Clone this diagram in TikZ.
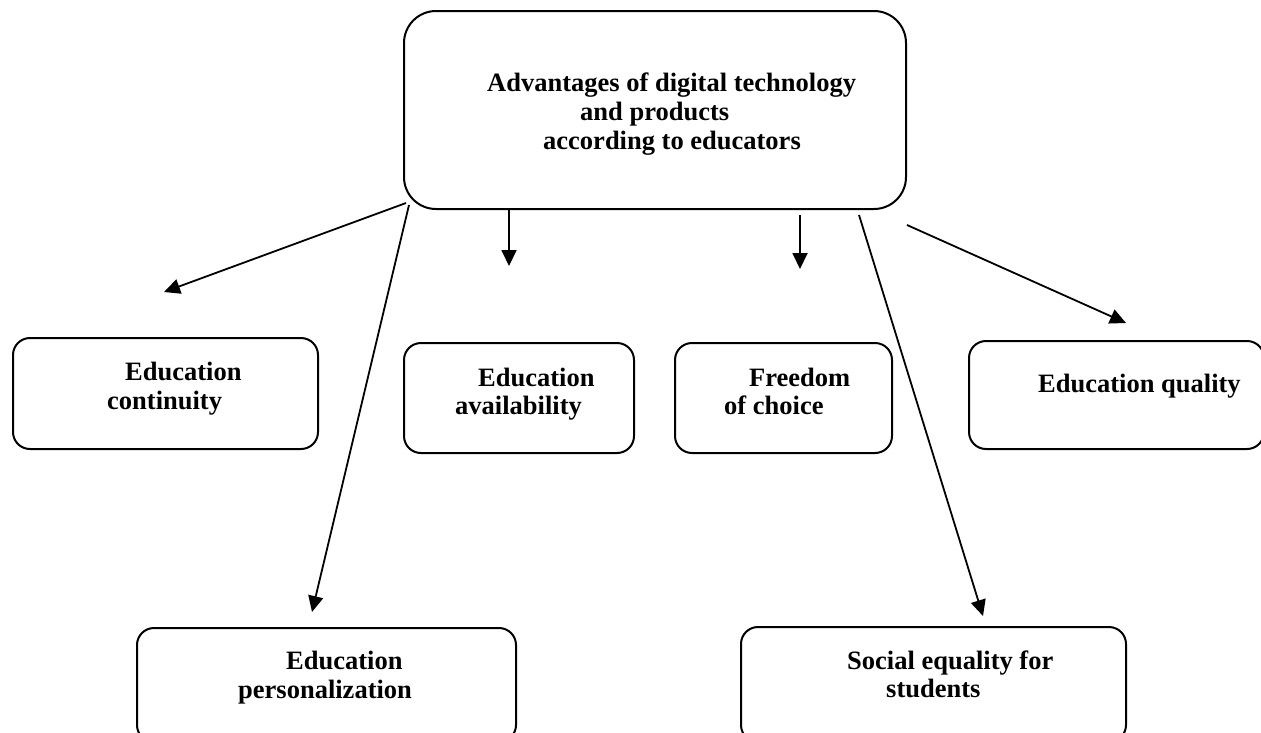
\documentclass[tikz,border=0pt]{standalone}
\usepackage{fontspec}
\setmainfont{Liberation Serif}
\usetikzlibrary{arrows.meta}
\tikzset{
  box/.style={draw=black, line width=2pt, rounded corners=17pt, inner sep=0pt},
  bigbox/.style={box, rounded corners=32pt},
  txt/.style={anchor=base west, inner sep=0pt, font=\bfseries\fontsize{26.5}{29}\selectfont},
  arr/.style={line width=1.8pt, -{Triangle[length=16pt,width=15pt]}}
}
\begin{document}
\begin{tikzpicture}[x=1pt,y=-1pt]
\useasboundingbox (0,0) rectangle (1261,732);
\clip (0,0) rectangle (1261,732);
% boxes
\draw[bigbox] (404,11) rectangle (906,209) node[pos=0.5] (top) {};
\draw[box] (13,338) rectangle (318,449) node[pos=0.5] (cont) {};
\draw[box] (404,343) rectangle (634,453) node[pos=0.5] (avail) {};
\draw[box] (675,343) rectangle (892,453) node[pos=0.5] (free) {};
\draw[box] (969,341) rectangle (1264,449) node[pos=0.5] (qual) {};
\draw[box] (137,628) rectangle (516,742) node[pos=0.5] (pers) {};
\draw[box] (741,627) rectangle (1126,742) node[pos=0.5] (soc) {};
% texts
\node[txt] (t1) at (487,91) {Advantages of digital technology};
\node[txt] (t2) at (580,120) {and products};
\node[txt] (t3) at (543,149) {according to educators};
\node[txt] (c1) at (125,380) {Education};
\node[txt] (c2) at (107,409) {continuity};
\node[txt] (a1) at (478,386) {Education};
\node[txt] (a2) at (455,414) {availability};
\node[txt] (f1) at (749,386) {Freedom};
\node[txt] (f2) at (724,414) {of choice};
\node[txt] (q1) at (1038,392) {Education quality};
\node[txt] (p1) at (286,669) {Education};
\node[txt] (p2) at (238,698) {personalization};
\node[txt] (s1) at (847,669) {Social equality for};
\node[txt] (s2) at (886,697) {students};
% connector ends
\coordinate (s1a) at (406,203);
\coordinate (e1a) at (164,292);
\coordinate (s2a) at (409,205);
\coordinate (e2a) at (312,612);
\coordinate (s3a) at (509,208);
\coordinate (e3a) at (509,266);
\coordinate (s4a) at (800,215);
\coordinate (e4a) at (800,269);
\coordinate (s5a) at (859,215);
\coordinate (e5a) at (983,616);
\coordinate (s6a) at (907,225);
\coordinate (e6a) at (1126,323);
\draw[arr] (s1a) -- (e1a);
\draw[arr] (s2a) -- (e2a);
\draw[arr] (s3a) -- (e3a);
\draw[arr] (s4a) -- (e4a);
\draw[arr] (s5a) -- (e5a);
\draw[arr] (s6a) -- (e6a);
\end{tikzpicture}
\end{document}
